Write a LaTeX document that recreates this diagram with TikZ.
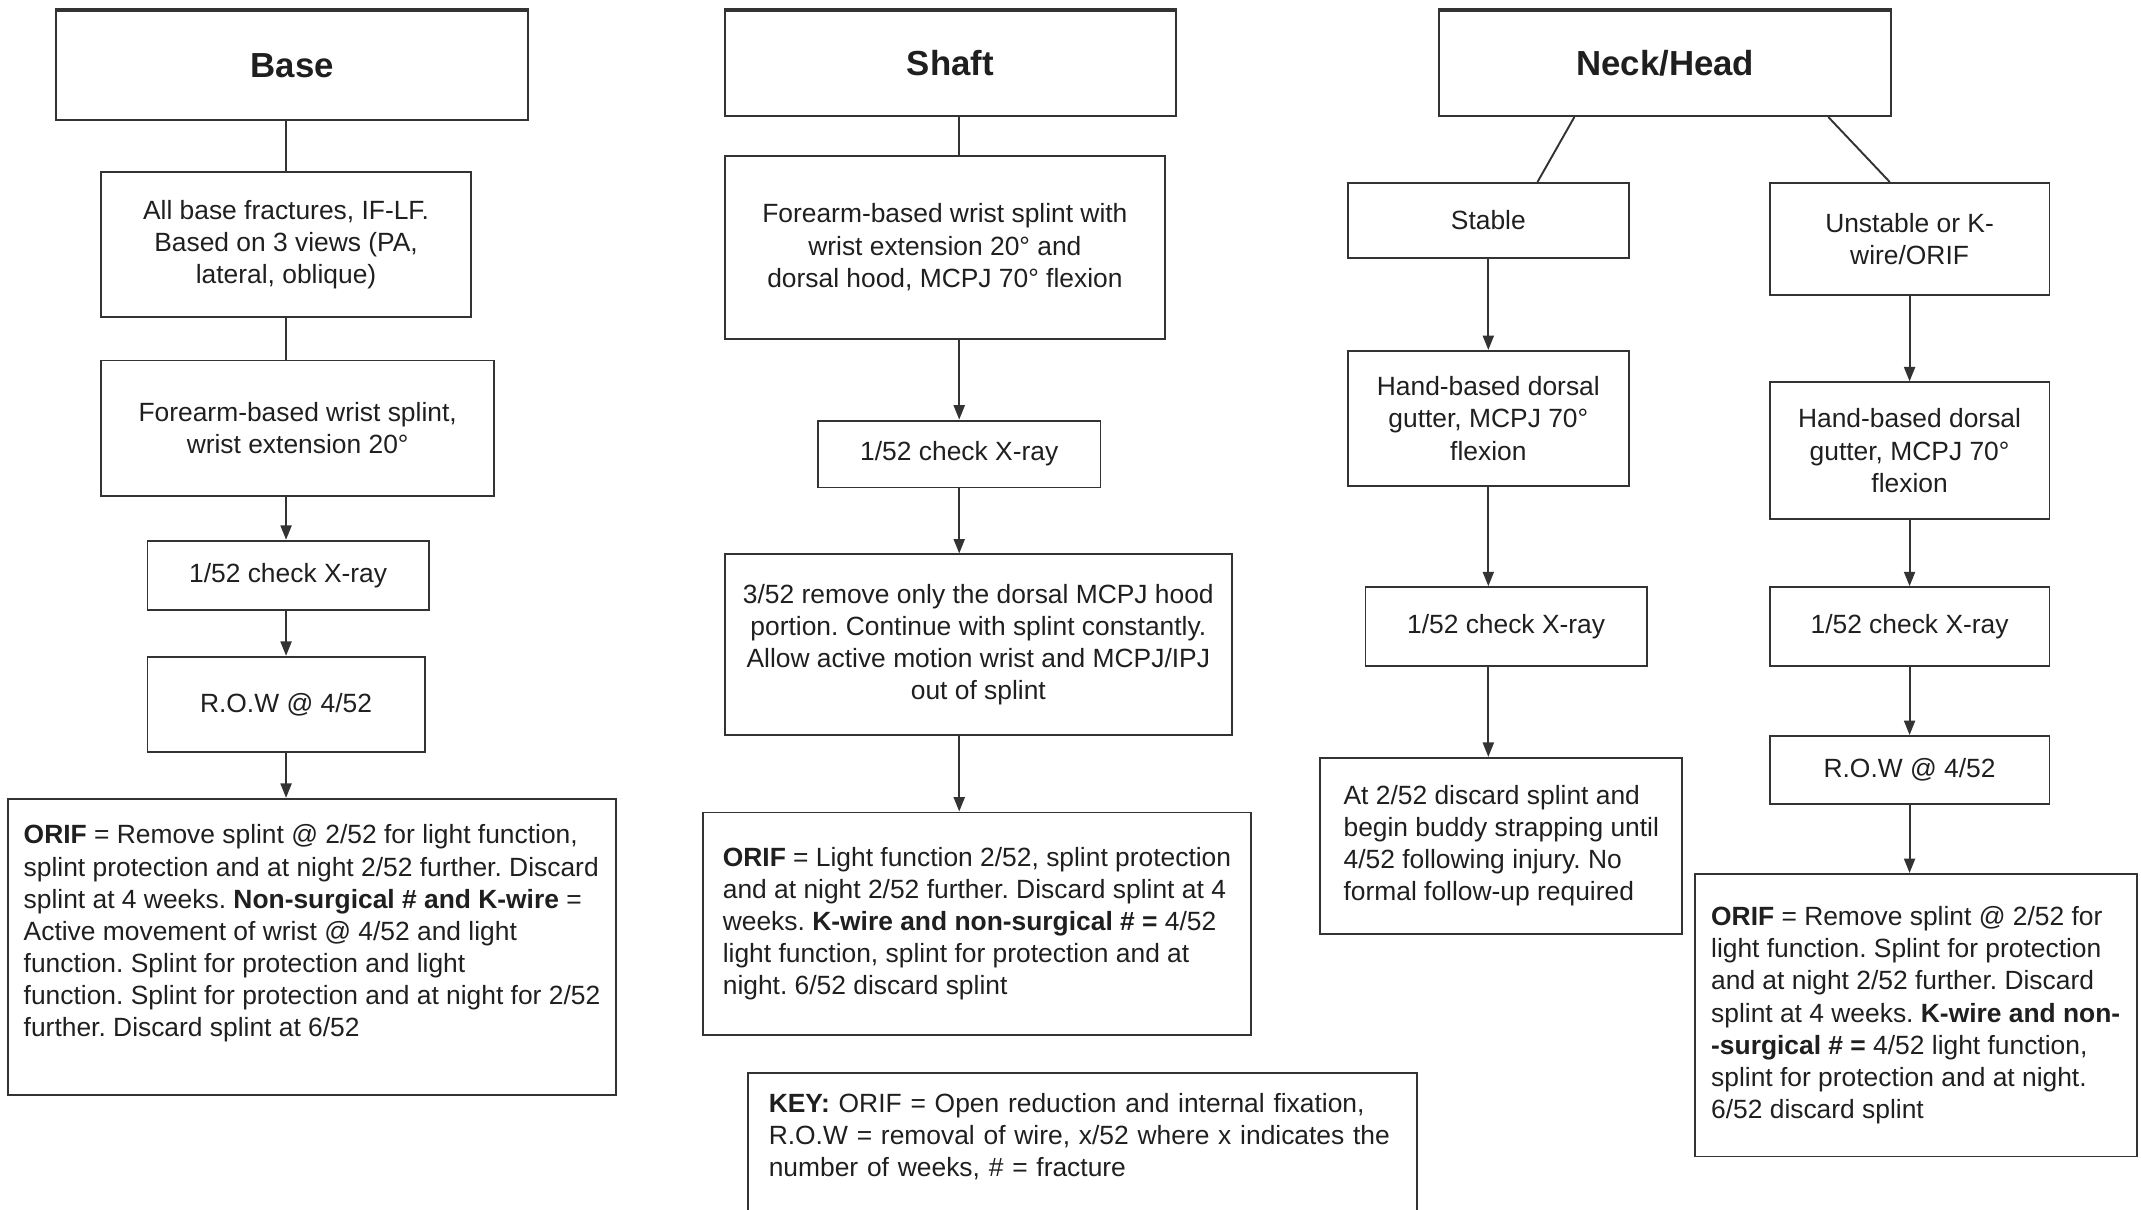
\documentclass[tikz,border=0pt]{standalone}
\usepackage{fontspec}
\setmainfont{Liberation Sans}
\usepackage{xcolor}
\usetikzlibrary{positioning,arrows.meta}
\definecolor{LineGrey}{HTML}{333333}
\frenchspacing

\begin{document}
\begin{tikzpicture}[x=0.02cm, y=-0.02cm, >={Triangle[length=6pt,width=4.6pt]},
                    every node/.style={draw=LineGrey, line width=0.8pt, align=center, text=black!88,
                                       inner sep=0pt, font=\fontsize{11}{13.4}\selectfont},
                    head/.style={font=\bfseries\fontsize{14.5}{17}\selectfont},
                    note/.style={align=left},
                    every path/.style={draw=LineGrey, line width=0.8pt}]
\useasboundingbox[draw=none] (0,0) rectangle (1568,886);
% column headings
\node[head, minimum width=6.92cm, minimum height=1.6cm] (base) at (214,48) {Base};
\node[head, minimum width=6.6cm, minimum height=1.54cm] (shaft) at (696,46.5) {Shaft};
\node[head, minimum width=6.62cm, minimum height=1.54cm] (neck) at (1219.5,46.5) {Neck/Head};
% base
\node[minimum width=5.42cm, minimum height=2.12cm] (allbase) at (209.5,179)
  {All base fractures, IF-LF.\\Based on 3 views (PA,\\lateral, oblique)};
\node[minimum width=5.76cm, minimum height=1.98cm] (splintA) at (218,313.5)
  {Forearm-based wrist splint,\\wrist extension 20°};
\node[minimum width=4.12cm, minimum height=1.02cm] (xrayA) at (211,421.5) {1/52 check X-ray};
\node[minimum width=4.06cm, minimum height=1.4cm] (rowA) at (209.5,516) {R.O.W @ 4/52};
\node[note, minimum width=8.9cm, minimum height=4.34cm] (orifA) at (228.5,693.5)
  {\textbf{ORIF} = Remove splint @ 2/52 for light function,\\
   splint protection and at night 2/52 further. Discard\\
   splint at 4 weeks. \textbf{Non-surgical \# and K-wire} =\\
   Active movement of wrist @ 4/52 and light\\
   function. Splint for protection and light\\
   function. Splint for protection and at night for 2/52\\
   further. Discard splint at 6/52\\ \mbox{}};
% shaft
\node[minimum width=6.44cm, minimum height=2.68cm] (splintB) at (692,181)
  {Forearm-based wrist splint with\\wrist extension 20° and\\dorsal hood, MCPJ 70° flexion};
\node[minimum width=4.14cm, minimum height=0.98cm] (xrayB) at (702.5,332.5) {1/52 check X-ray};
\node[minimum width=7.42cm, minimum height=2.64cm] (hoodB) at (716.5,472)
  {3/52 remove only the dorsal MCPJ hood\\portion. Continue with splint constantly.\\
   Allow active motion wrist and MCPJ/IPJ\\out of splint};
\node[note, minimum width=8.02cm, minimum height=3.26cm] (orifB) at (715.5,676.5)
  {\textbf{ORIF} = Light function 2/52, splint protection\\
   and at night 2/52 further. Discard splint at 4\\
   weeks. \textbf{K-wire and non-surgical \# =} 4/52\\
   light function, splint for protection and at\\
   night. 6/52 discard splint};
\node[note, text width=9.2cm, inner xsep=0.3cm, minimum height=2.3cm] (key) at (793,843)
  {\textbf{KEY:} ORIF = Open reduction and internal fixation,\\
   R.O.W = removal of wire, x/52 where x indicates the\\
   number of weeks, \# = fracture\\ \mbox{}};
% neck/head
\node[minimum width=4.12cm, minimum height=1.1cm] (stable) at (1090,161.5) {Stable};
\node[minimum width=4.1cm, minimum height=1.64cm] (unstable) at (1398.5,175) {Unstable or K-\\wire/ORIF};
\node[minimum width=4.12cm, minimum height=1.98cm] (handC) at (1090,306.5)
  {Hand-based dorsal\\gutter, MCPJ 70°\\flexion};
\node[minimum width=4.1cm, minimum height=2.0cm] (handD) at (1398.5,330)
  {Hand-based dorsal\\gutter, MCPJ 70°\\flexion};
\node[minimum width=4.12cm, minimum height=1.16cm] (xrayC) at (1103,459) {1/52 check X-ray};
\node[minimum width=4.1cm, minimum height=1.16cm] (xrayD) at (1398.5,459) {1/52 check X-ray};
\node[note, minimum width=5.3cm, minimum height=2.58cm] (stopC) at (1099.5,619.5)
  {At 2/52 discard splint and\\begin buddy strapping until\\4/52 following injury. No\\formal follow-up required};
\node[minimum width=4.1cm, minimum height=1.0cm] (rowD) at (1398.5,564) {R.O.W @ 4/52};
\node[note, minimum width=6.48cm, minimum height=4.14cm] (orifD) at (1403,743.5)
  {\textbf{ORIF} = Remove splint @ 2/52 for\\
   light function. Splint for protection\\
   and at night 2/52 further. Discard\\
   splint at 4 weeks. \textbf{K-wire and non-}\\
   \textbf{-surgical \# =} 4/52 light function,\\
   splint for protection and at night.\\
   6/52 discard splint};
% heavier top edges
\foreach \h in {base,shaft,neck}
  \draw[line width=1.6pt] (\h.north west) -- (\h.north east);
% connectors
\draw (base.south -| allbase) -- (allbase.north);
\draw (allbase.south) -- (splintA.north -| allbase);
\draw[->] (splintA.south -| allbase) -- (xrayA.north -| allbase);
\draw[->] (xrayA.south -| allbase) -- (rowA.north -| allbase);
\draw[->] (rowA.south -| allbase) -- (orifA.north -| allbase);
\draw (shaft.south -| xrayB) -- (splintB.north -| xrayB);
\draw[->] (splintB.south -| xrayB) -- (xrayB.north);
\draw[->] (xrayB.south) -- (hoodB.north -| xrayB);
\draw[->] (hoodB.south -| xrayB) -- (orifB.north -| xrayB);
\draw ([xshift=-1.33cm]neck.south) -- ([xshift=0.72cm]stable.north);
\draw ([xshift=2.39cm]neck.south) -- ([xshift=-0.29cm]unstable.north);
\draw[->] (stable.south) -- (handC.north);
\draw[->] (handC.south) -- (xrayC.north -| handC);
\draw[->] (xrayC.south -| handC) -- (stopC.north -| handC);
\draw[->] (unstable.south) -- (handD.north);
\draw[->] (handD.south) -- (xrayD.north);
\draw[->] (xrayD.south) -- (rowD.north);
\draw[->] (rowD.south) -- (orifD.north -| rowD);
\end{tikzpicture}
\end{document}
